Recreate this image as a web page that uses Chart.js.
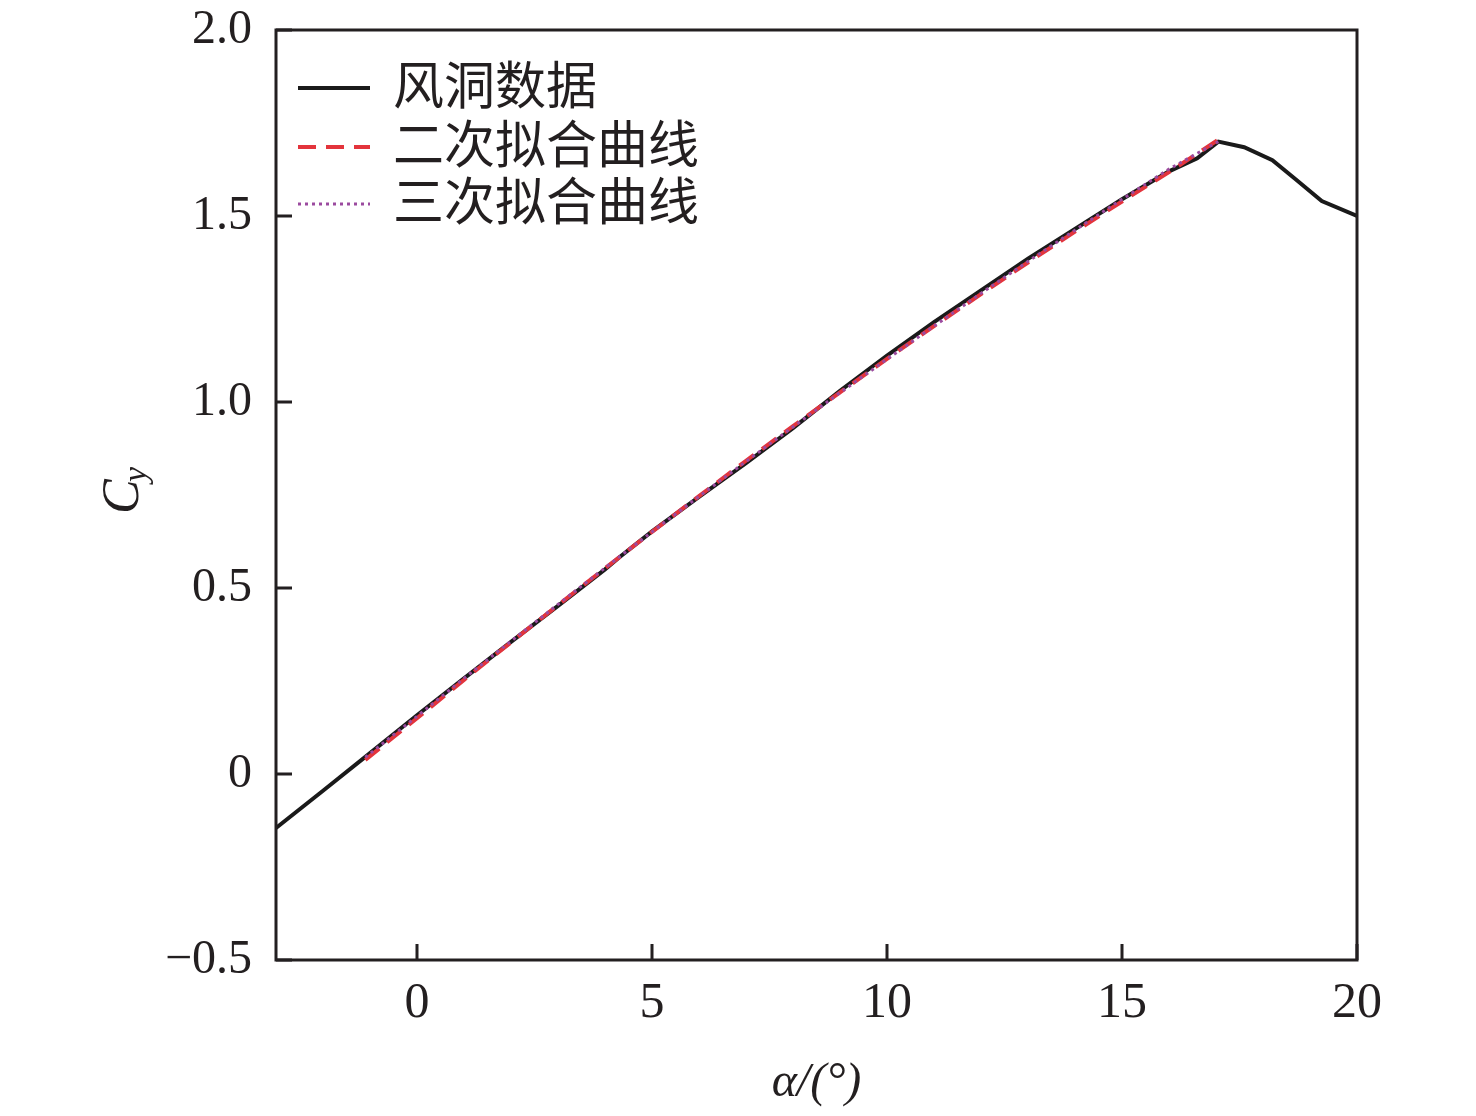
<!DOCTYPE html>
<html>
<head>
<meta charset="utf-8">
<script src="https://cdn.jsdelivr.net/npm/chart.js@4.4.1/dist/chart.umd.min.js"></script>
<style>
  html, body { margin: 0; padding: 0; background: #fff; }
  #wrap { width: 1476px; height: 1116px; }
</style>
</head>
<body>
<div id="wrap"><canvas id="cyChart" width="1476" height="1116"></canvas></div>
<script>
// wind tunnel data
const tunnelAlpha = [-3, -2, -1, 0, 1, 2, 3, 4, 4.3, 5, 6, 7, 8, 9, 10, 11, 12, 13, 14, 15, 16, 16.6, 17.05, 17.6, 18.2, 18.7, 19.25, 20];
const tunnelCy = [-0.145, -0.045, 0.056, 0.158, 0.257, 0.355, 0.452, 0.55, 0.582, 0.652, 0.745, 0.836, 0.93, 1.03, 1.125, 1.215, 1.30, 1.385, 1.465, 1.545, 1.62, 1.655, 1.70, 1.685, 1.65, 1.598, 1.54, 1.50];

// quadratic fit
const fit2Alpha = [-1.1, 0, 1, 2, 3, 4, 5, 6, 7, 8, 9, 10, 11, 12, 13, 14, 15, 16, 17.05];
const fit2Cy = [0.038, 0.15, 0.253, 0.354, 0.454, 0.553, 0.651, 0.747, 0.842, 0.935, 1.026, 1.116, 1.204, 1.29, 1.375, 1.458, 1.539, 1.618, 1.705];

// cubic fit
const fit3Alpha = [-1.1, 0, 1, 2, 3, 4, 5, 6, 7, 8, 9, 10, 11, 12, 13, 14, 15, 16, 17.05];
const fit3Cy = [0.045, 0.155, 0.257, 0.357, 0.456, 0.554, 0.651, 0.746, 0.84, 0.933, 1.025, 1.115, 1.204, 1.292, 1.378, 1.462, 1.545, 1.626, 1.70];

const seriesNames = ['风洞数据', '二次拟合曲线', '三次拟合曲线'];
const xTicks = [0, 5, 10, 15, 20];
const yTicks = [-0.5, 0, 0.5, 1.0, 1.5, 2.0];

const toPoints = (xs, ys) => xs.map((x, i) => ({ x: x, y: ys[i] }));

const ink = '#231f20';
const serif = '"Liberation Serif", "Times New Roman", serif';

// frame, inward ticks, legend and y title
const decorations = {
    id: 'decorations',
    afterDraw(chart) {
        const ctx = chart.ctx;
        const a = chart.chartArea;
        const xs = chart.scales.x, ys = chart.scales.y;
        ctx.save();
        ctx.strokeStyle = ink;
        ctx.lineWidth = 3;
        ctx.strokeRect(a.left, a.top, a.right - a.left, a.bottom - a.top);
        ctx.beginPath();
        xTicks.forEach(v => {
            const px = xs.getPixelForValue(v);
            ctx.moveTo(px, a.bottom);
            ctx.lineTo(px, a.bottom - 16);
        });
        yTicks.forEach(v => {
            const py = ys.getPixelForValue(v);
            ctx.moveTo(a.left, py);
            ctx.lineTo(a.left + 16, py);
        });
        ctx.stroke();

        // legend
        const rows = [88, 147, 204];
        chart.data.datasets.forEach((ds, i) => {
            ctx.beginPath();
            ctx.strokeStyle = ds.borderColor;
            ctx.lineWidth = ds.borderWidth;
            ctx.setLineDash(ds.borderDash || []);
            ctx.moveTo(298, rows[i]);
            ctx.lineTo(370, rows[i]);
            ctx.stroke();
            ctx.setLineDash([]);
            ctx.fillStyle = ink;
            ctx.font = '51px "Noto Sans CJK SC"';
            ctx.textBaseline = 'middle';
            ctx.textAlign = 'left';
            ctx.fillText(ds.label, 393, rows[i] - 3);
        });

        // y title C_y rotated
        ctx.translate(122, 492);
        ctx.rotate(-Math.PI / 2);
        ctx.fillStyle = ink;
        ctx.textBaseline = 'alphabetic';
        ctx.textAlign = 'left';
        ctx.font = 'italic 52px ' + serif;
        ctx.fillText('C', -22, 16);
        ctx.font = 'italic 34px ' + serif;
        ctx.fillText('y', 10, 24);
        ctx.restore();
    }
};

new Chart(document.getElementById('cyChart').getContext('2d'), {
    type: 'line',
    data: {
        datasets: [
            {
                label: seriesNames[0],
                data: toPoints(tunnelAlpha, tunnelCy),
                borderColor: '#1a1a1a',
                borderWidth: 4,
                pointRadius: 0,
                tension: 0,
                order: 3
            },
            {
                label: seriesNames[1],
                data: toPoints(fit2Alpha, fit2Cy),
                borderColor: '#e3343c',
                borderWidth: 4,
                borderDash: [18, 10],
                pointRadius: 0,
                tension: 0,
                order: 2
            },
            {
                label: seriesNames[2],
                data: toPoints(fit3Alpha, fit3Cy),
                borderColor: '#9b4a9f',
                borderWidth: 3,
                borderDash: [3, 4],
                pointRadius: 0,
                tension: 0,
                order: 1
            }
        ]
    },
    options: {
        responsive: false,
        animation: false,
        layout: { padding: { top: 30, right: 119, left: 0, bottom: 0 } },
        plugins: {
            legend: { display: false },
            tooltip: { enabled: false }
        },
        scales: {
            x: {
                type: 'linear',
                min: -3,
                max: 20,
                afterBuildTicks: (s) => { s.ticks = xTicks.map(v => ({ value: v })); },
                afterFit: (s) => { s.height = 156; s.paddingLeft = 0; s.paddingRight = 0; },
                grid: { display: false, drawTicks: false },
                border: { display: false },
                ticks: {
                    padding: 14,
                    color: ink,
                    maxRotation: 0,
                    font: { family: serif, size: 50 },
                    callback: (v) => String(v)
                },
                title: {
                    display: true,
                    text: 'α/(°)',
                    color: ink,
                    font: { family: serif, size: 48, style: 'italic' },
                    padding: { top: 0, bottom: 4 }
                }
            },
            y: {
                min: -0.5,
                max: 2.0,
                afterBuildTicks: (s) => { s.ticks = yTicks.map(v => ({ value: v })); },
                afterFit: (s) => { s.width = 276; s.paddingTop = 0; s.paddingBottom = 0; },
                grid: { display: false, drawTicks: false },
                border: { display: false },
                ticks: {
                    padding: 24,
                    color: ink,
                    font: { family: serif, size: 48 },
                    callback: (v) => v < 0 ? '−' + Math.abs(v).toFixed(1) : (v === 0 ? '0' : v.toFixed(1))
                }
            }
        }
    },
    plugins: [decorations]
});
</script>
</body>
</html>
